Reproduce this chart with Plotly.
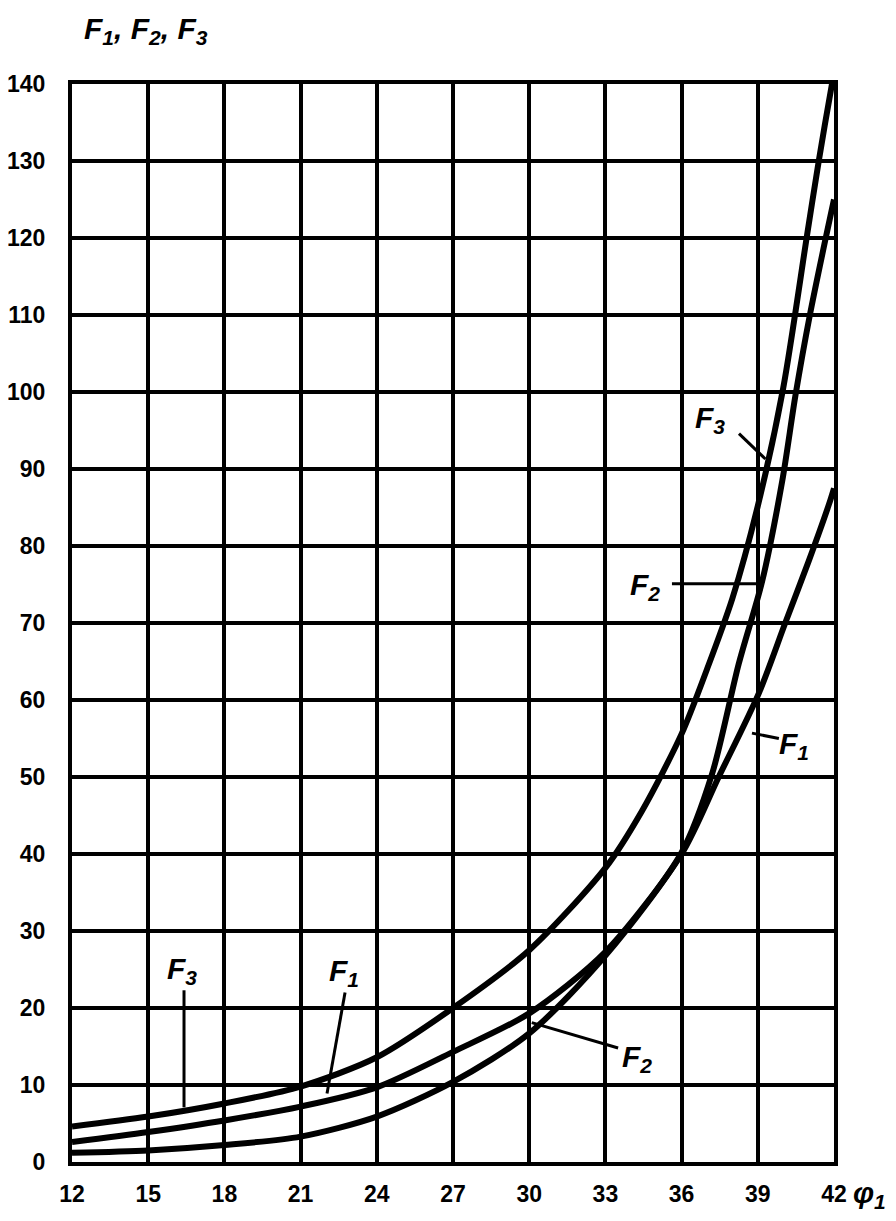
import plotly.graph_objects as go

# ---- data ----
x_ticks = [12, 15, 18, 21, 24, 27, 30, 33, 36, 39, 42]
y_ticks = [0, 10, 20, 30, 40, 50, 60, 70, 80, 90, 100, 110, 120, 130, 140]

f1_x = [12, 15, 18, 21, 24, 27, 30, 33, 36, 37.46, 39.03, 40.08, 41.0, 41.8, 42]
f1_y = [2.6, 3.9, 5.4, 7.2, 9.7, 14.3, 19.3, 27.3, 40.0, 50.0, 60.8, 70.0, 78.0, 85.4, 87.5]

f2_x = [12, 15, 18, 21, 24, 27, 30, 33, 36, 37.2, 38.25, 39.17, 39.96, 40.48, 41.05, 41.7, 42]
f2_y = [1.2, 1.5, 2.2, 3.3, 5.9, 10.4, 16.7, 26.8, 40.2, 50.4, 64.7, 75.4, 88.4, 99.5, 110.0, 120.4, 125.0]

f3_x = [12, 15, 18, 21, 24, 27, 30, 33, 34.44, 36, 37, 38, 39, 40, 40.94, 41.4, 41.92, 42.1]
f3_y = [4.6, 5.9, 7.6, 9.8, 13.6, 20.0, 27.5, 38.2, 45.6, 55.6, 64.0, 73.2, 85.2, 100.5, 120.4, 130.0, 140.0, 143.0]

TICK_FONT = dict(family="Liberation Sans, Arial, sans-serif",
                 size=23, color="black", weight="bold")
LBL_FONT = dict(family="Liberation Sans, DejaVu Sans, sans-serif", size=30, color="black",
                weight="bold", style="italic")

fig = go.Figure()
for xs, ys, name in [(f1_x, f1_y, "F1"), (f2_x, f2_y, "F2"), (f3_x, f3_y, "F3")]:
    fig.add_trace(go.Scatter(x=xs, y=ys, mode="lines", name=name,
                             line=dict(color="black", width=6, shape="spline", smoothing=0.8),
                             showlegend=False, hoverinfo="skip"))

# leader lines for curve labels (data coords)
leaders = [
    (16.41, 22.3, 16.41, 7.1),     # F3 lower
    (22.75, 22.0, 22.04, 8.9),     # F1 lower
    (33.5, 14.8, 30.1, 18.1),      # F2 lower
    (38.26, 94.6, 39.3, 91.3),     # F3 upper
    (35.62, 75.1, 39.05, 75.1),    # F2 upper
    (39.83, 55.0, 38.77, 55.7),    # F1 right
]
shapes = [dict(type="line", xref="x", yref="y", x0=a, y0=b, x1=c, y1=d,
               line=dict(color="black", width=3)) for a, b, c, d in leaders]

labels = [
    (16.33, 24.9, "3"),
    (22.7, 24.6, "1"),
    (34.24, 13.5, "2"),
    (37.12, 96.4, "3"),
    (34.56, 74.8, "2"),
    (40.43, 54.1, "1"),
]
annotations = [dict(x=x, y=y, xref="x", yref="y", showarrow=False,
                    text="<i>F</i><sub>%s</sub>" % s, font=LBL_FONT,
                    xanchor="center", yanchor="middle") for x, y, s in labels]

annotations.append(dict(x=0.013, y=1.05, xref="paper", yref="paper", showarrow=False,
                        text="<i>F</i><sub>1</sub>, <i>F</i><sub>2</sub>, <i>F</i><sub>3</sub>",
                        font=LBL_FONT, xanchor="left", yanchor="middle"))
annotations.append(dict(x=1.022, y=-0.03, xref="paper", yref="paper", showarrow=False,
                        text="<i>φ</i><sub>1</sub>", font=LBL_FONT,
                        xanchor="left", yanchor="middle"))

fig.update_layout(
    width=896, height=1221,
    margin=dict(l=64, r=70, t=76, b=67, autoexpand=False),
    paper_bgcolor="white", plot_bgcolor="white",
    shapes=shapes, annotations=annotations,
    xaxis=dict(range=[12, 42], tickvals=x_ticks, ticktext=[str(v) for v in x_ticks],
               showgrid=True, gridcolor="black", gridwidth=4,
               showline=True, linecolor="black", linewidth=4, mirror=True,
               ticks="outside", ticklen=8, tickcolor="rgba(0,0,0,0)",
               tickfont=TICK_FONT, zeroline=False, automargin=False),
    yaxis=dict(range=[0, 140], tickvals=y_ticks, ticktext=[str(v) for v in y_ticks],
               showgrid=True, gridcolor="black", gridwidth=4,
               showline=True, linecolor="black", linewidth=4, mirror=True,
               ticks="outside", ticklen=18, tickcolor="rgba(0,0,0,0)",
               tickfont=TICK_FONT, zeroline=False, automargin=False),
)

fig.write_html("out.html")
